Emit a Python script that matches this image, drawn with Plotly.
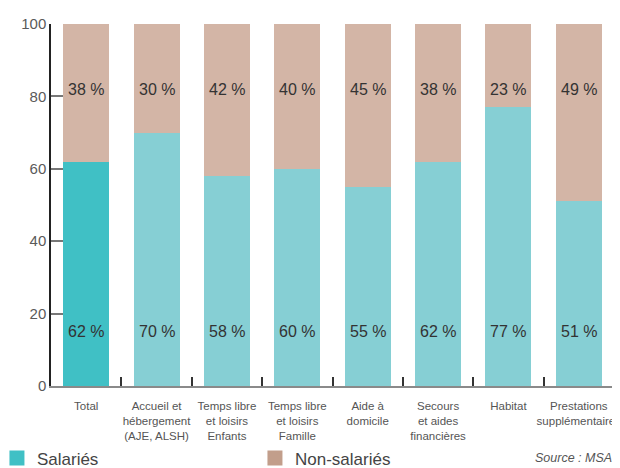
import plotly.graph_objects as go

CATEGORIES = [
    "Total",
    "Accueil et<br>hébergement<br>(AJE, ALSH)",
    "Temps libre<br>et loisirs<br>Enfants",
    "Temps libre<br>et loisirs<br>Famille",
    "Aide à<br>domicile",
    "Secours<br>et aides<br>financières",
    "Habitat",
    "Prestations<br>supplémentaires",
]
SALARIES = [62, 70, 58, 60, 55, 62, 77, 51]
NON_SALARIES = [38, 30, 42, 40, 45, 38, 23, 49]
Y_TICKS = [0, 20, 40, 60, 80, 100]

TEAL_DARK = "#40c0c5"
TEAL = "#86cfd4"
BEIGE = "#d3b5a6"
BEIGE_LEGEND = "#c29e8b"
FONT = "Liberation Sans, Arial, Helvetica, sans-serif"

sal_colors = [TEAL_DARK] + [TEAL] * (len(CATEGORIES) - 1)

fig = go.Figure()
fig.add_trace(go.Bar(
    x=CATEGORIES, y=SALARIES, marker_color=sal_colors, marker_line_width=0,
    width=0.654, showlegend=False, hoverinfo="skip",
))
fig.add_trace(go.Bar(
    x=CATEGORIES, y=NON_SALARIES, marker_color=BEIGE, marker_line_width=0,
    width=0.654, showlegend=False, hoverinfo="skip",
))

# legend entries
fig.add_trace(go.Scatter(
    x=[None], y=[None], mode="markers", name="Salariés",
    marker=dict(symbol="square", size=15, color=TEAL_DARK),
))
fig.add_trace(go.Scatter(
    x=[None], y=[None], mode="markers", name="Non-salariés",
    marker=dict(symbol="square", size=15, color=BEIGE_LEGEND),
))

for cat, s, n in zip(CATEGORIES, SALARIES, NON_SALARIES):
    fig.add_annotation(x=cat, y=15, text=f"{s} %", showarrow=False,
                       font=dict(size=16, color="#333333", family=FONT))
    fig.add_annotation(x=cat, y=82, text=f"{n} %", showarrow=False,
                       font=dict(size=16, color="#333333", family=FONT))

fig.add_annotation(
    text="<i>Source : MSA</i>", xref="paper", yref="paper",
    x=1.0, y=-0.2, xanchor="right", yanchor="middle", showarrow=False,
    font=dict(size=12.5, color="#555555", family=FONT),
)

# page body adds an 8px offset, margins compensate for it
fig.update_layout(
    width=620,
    height=468,
    margin=dict(l=43, r=14, t=16, b=89.5, autoexpand=False),
    paper_bgcolor="white",
    plot_bgcolor="white",
    barmode="stack",
    bargap=0.346,
    font=dict(family=FONT, color="#555555"),
    legend=dict(
        orientation="h",
        traceorder="normal",
        x=-0.096, xanchor="left",
        y=-0.2, yanchor="middle",
        itemsizing="trace",
        entrywidth=213,
        font=dict(size=17, color="#444444", family=FONT),
        bgcolor="rgba(0,0,0,0)",
    ),
    xaxis=dict(
        range=[-0.5, 7.5],
        automargin=False,
        tickangle=0,
        showline=True, linecolor="#8a8a8a", linewidth=2,
        ticks="inside", tickson="boundaries", ticklen=9, tickcolor="#333333",
        tickwidth=1.5,
        ticklabelstandoff=8,
        tickfont=dict(size=11.5, color="#555555", family=FONT),
        showgrid=False,
    ),
    yaxis=dict(
        range=[0, 100],
        automargin=False,
        tickvals=Y_TICKS,
        showline=True, linecolor="#222222", linewidth=1.5,
        ticks="inside", ticklen=12, tickcolor="#777777", tickwidth=1.5,
        tickfont=dict(size=15, color="#5a5a5a", family=FONT),
        showgrid=False, zeroline=False,
    ),
)

fig.write_html("out.html")
